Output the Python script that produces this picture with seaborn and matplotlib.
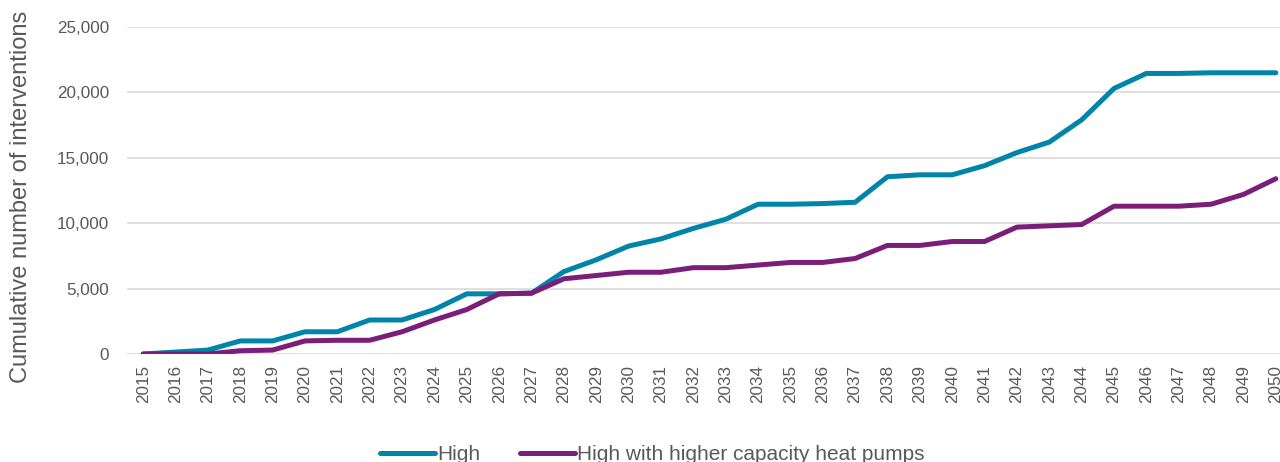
import matplotlib
matplotlib.use("Agg")
from matplotlib import pyplot as plt
from matplotlib.ticker import FuncFormatter
import seaborn as sns
import pandas as pd

years = list(range(2015, 2051))
high = [0, 150, 300, 1000, 1000, 1700, 1700, 2600, 2600, 3400,
        4600, 4600, 4650, 6300, 7200, 8250, 8800, 9600, 10300, 11450,
        11450, 11500, 11600, 13550, 13700, 13700, 14400, 15400, 16200, 17900,
        20300, 21450, 21450, 21500, 21500, 21500]
high_hp = [0, 0, 0, 250, 300, 1000, 1050, 1050, 1700, 2600,
           3400, 4600, 4650, 5750, 6000, 6250, 6250, 6600, 6600, 6800,
           7000, 7000, 7300, 8300, 8300, 8600, 8600, 9700, 9800, 9900,
           11300, 11300, 11300, 11450, 12200, 13400]
series_names = ["High", "High with higher capacity heat pumps"]
colours = ["#0085A8", "#7B1E7A"]

df = pd.DataFrame({
    "year": [str(y) for y in years] * 2,
    "value": high + high_hp,
    "scenario": [series_names[0]] * len(years) + [series_names[1]] * len(years),
})

sns.set_style("white")
plt.rcParams["font.family"] = ["Liberation Sans", "DejaVu Sans"]
grey = "#595959"

fig = plt.figure(figsize=(12.8, 4.62), dpi=100)
ax = fig.add_axes([127 / 1280, 1 - 354 / 462, (1292 - 127) / 1280, (354 - 27) / 462])

sns.lineplot(data=df, x="year", y="value", hue="scenario", palette=colours,
             linewidth=3.6, ax=ax, sort=False, solid_capstyle="round")

ax.set_ylim(0, 25000)
ax.set_xlim(-0.5, len(years) - 0.5)
ax.set_yticks(range(0, 25001, 5000))
ax.yaxis.set_major_formatter(FuncFormatter(lambda v, p: f"{int(v):,}"))
ax.grid(axis="y", color="#D9D9D9", linewidth=1.2)
ax.set_axisbelow(True)
for s in ax.spines.values():
    s.set_visible(False)

ax.tick_params(axis="x", rotation=90, labelsize=12.3, colors=grey, length=0, pad=8)
ax.tick_params(axis="y", labelsize=12.3, colors=grey, length=0, pad=13)
ax.set_xlabel("")
ax.set_ylabel("Cumulative number of interventions", fontsize=17, color=grey)
ax.yaxis.set_label_coords(-95 / 1165, 0.48)

ax.legend(loc="lower center", bbox_to_anchor=((652 - 127) / 1165, -0.395),
          ncol=2, frameon=False, fontsize=15, handlelength=2.65, handletextpad=0.1,
          columnspacing=1.9, labelcolor=grey)

fig.savefig("out.png", dpi=100)
